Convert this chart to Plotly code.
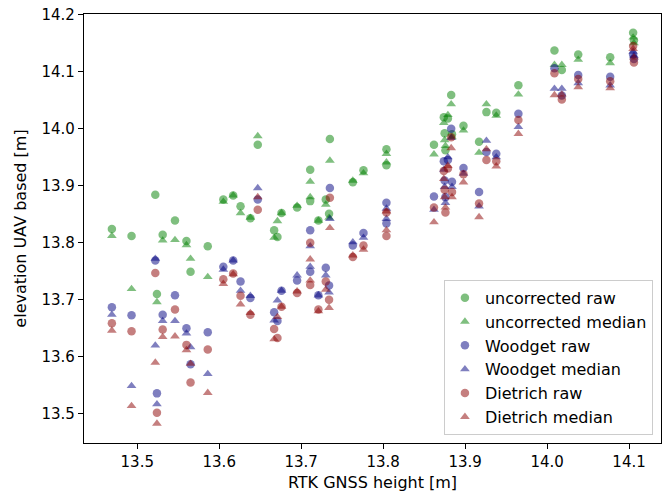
import plotly.graph_objects as go

# RTK GNSS heights (x) – one entry per measured point
gnss = [13.469, 13.493, 13.522, 13.522, 13.524, 13.531, 13.546, 13.560, 13.565, 13.586,
        13.605, 13.617, 13.626, 13.638, 13.647, 13.667, 13.671, 13.676, 13.695, 13.711,
        13.711, 13.721, 13.730, 13.734, 13.735, 13.763, 13.776, 13.804, 13.804, 13.862,
        13.874, 13.875, 13.876, 13.879, 13.883, 13.884, 13.898, 13.917, 13.926, 13.938,
        13.965, 14.009, 14.018, 14.038, 14.077, 14.105, 14.106]

uncorrected_raw = [13.824, 13.812, 13.884, None, 13.710, 13.814, 13.839, 13.803, 13.749, 13.794,
                   13.876, 13.883, 13.864, 13.843, 13.972, 13.822, 13.810, 13.852, 13.862, 13.928,
                   13.873, 13.839, 13.876, 13.851, 13.982, 13.906, 13.927, 13.964, 13.936, 13.972,
                   14.020, 13.992, 13.962, 14.018, 14.059, 13.990, 14.005, 13.977, 14.029, 14.028,
                   14.076, 14.137, 14.103, 14.130, 14.125, 14.168, 14.155]
uncorrected_median = [13.812, 13.719, None, None, 13.696, 13.804, 13.805, 13.796, 13.772, 13.740,
                      13.872, 13.883, 13.852, 13.844, 13.987, 13.809, 13.838, 13.852, 13.865, 13.907,
                      13.880, 13.839, 13.867, 13.844, 13.944, 13.909, 13.922, 13.956, 13.941, 13.955,
                      14.010, 13.980, 13.970, 14.024, 14.043, 13.985, 13.997, 13.958, 14.043, 14.023,
                      14.060, 14.112, 14.112, 14.121, 14.115, 14.160, 14.150]
woodget_raw = [13.687, 13.673, 13.769, None, 13.536, 13.674, 13.708, 13.650, 13.587, 13.643,
               13.758, 13.769, 13.732, 13.703, 13.876, 13.678, 13.663, 13.716, 13.734, 13.822,
               13.749, 13.708, 13.756, 13.725, 13.896, 13.795, 13.817, 13.870, 13.834, 13.881,
               13.943, 13.909, 13.880, 13.945, 14.000, 13.907, 13.931, 13.889, 13.959, 13.956,
               14.026, 14.106, 14.058, 14.094, 14.091, 14.130, 14.122]
woodget_median = [13.674, 13.549, 13.772, 13.620, 13.517, 13.663, 13.663, 13.641, 13.617, 13.570,
                  13.753, 13.769, 13.716, 13.707, 13.896, 13.664, 13.699, 13.716, 13.743, 13.794,
                  13.758, 13.708, 13.743, 13.713, 13.842, 13.801, 13.809, 13.860, 13.842, 13.858,
                  13.928, 13.898, 13.870, 13.950, 13.984, 13.898, 13.921, 13.864, 13.979, 13.950,
                  14.003, 14.070, 14.070, 14.080, 14.076, 14.135, 14.128]
dietrich_raw = [13.659, 13.645, 13.747, None, 13.502, 13.648, 13.683, 13.621, 13.555, 13.613,
                13.736, 13.746, 13.707, 13.674, 13.858, 13.649, 13.633, 13.688, 13.712, 13.800,
                13.726, 13.683, 13.732, 13.700, 13.879, 13.775, 13.795, 13.853, 13.812, 13.862,
                13.926, 13.893, 13.853, 13.930, 13.985, 13.889, 13.920, 13.869, 13.945, 13.943,
                14.015, 14.097, 14.051, 14.087, 14.083, 14.145, 14.116]
dietrich_median = [13.646, 13.514, 13.590, None, 13.483, 13.635, 13.636, 13.612, 13.588, 13.537,
                   13.728, 13.745, 13.692, 13.677, 13.880, 13.631, 13.670, 13.688, 13.715, 13.771,
                   13.734, 13.680, 13.718, 13.686, 13.826, 13.778, 13.788, 13.855, 13.822, 13.836,
                   13.912, 13.880, 13.862, 13.935, 13.966, 13.880, 13.906, 13.845, 13.964, 13.934,
                   13.991, 14.059, 14.060, 14.073, 14.071, 14.140, 14.125]

series_names = ["uncorrected raw", "uncorrected median", "Woodget raw",
                "Woodget median", "Dietrich raw", "Dietrich median"]
series_values = [uncorrected_raw, uncorrected_median, woodget_raw,
                 woodget_median, dietrich_raw, dietrich_median]
colors = ["rgb(0,128,0)", "rgb(0,128,0)", "rgb(0,0,128)", "rgb(0,0,128)",
          "rgb(139,0,0)", "rgb(139,0,0)"]
symbols = ["circle", "triangle-up"] * 3
sizes = [8.5, 8.5] * 3

x_ticks = [13.5, 13.6, 13.7, 13.8, 13.9, 14.0, 14.1]
y_ticks = [13.5, 13.6, 13.7, 13.8, 13.9, 14.0, 14.1, 14.2]

FONT = "DejaVu Sans"

fig = go.Figure()
for i, (name, vals) in enumerate(zip(series_names, series_values)):
    fig.add_trace(go.Scatter(
        x=gnss, y=vals, mode="markers", name=name, legendgroup=f"g{i}",
        marker=dict(color=colors[i], symbol=symbols[i], size=sizes[i],
                    opacity=0.5, line=dict(width=0)),
    ))

axis_common = dict(showline=True, linecolor="black", linewidth=1.2, mirror=True,
                   ticks="outside", ticklen=5, tickwidth=1.2, tickcolor="black",
                   showgrid=False, zeroline=False, tickformat=".1f",
                   tickfont=dict(family=FONT, size=15, color="black"))

fig.update_layout(
    width=664, height=494,
    margin=dict(l=84, r=3, t=14, b=51),
    plot_bgcolor="white", paper_bgcolor="white",
    font=dict(family=FONT, size=16, color="black"),
    xaxis=dict(range=[13.435, 14.139], tickvals=x_ticks,
               title=dict(text="RTK GNSS height [m]", font=dict(family=FONT, size=16),
                          standoff=6),
               **axis_common),
    yaxis=dict(range=[13.449, 14.201], tickvals=y_ticks,
               title=dict(text="elevation UAV based [m]", font=dict(family=FONT, size=16),
                          standoff=10),
               **axis_common),
    legend=dict(x=0.986, y=0.019, xanchor="right", yanchor="bottom",
                bgcolor="rgba(255,255,255,0.8)", bordercolor="#cccccc", borderwidth=1,
                font=dict(family=FONT, size=16, color="black"),
                traceorder="grouped", tracegroupgap=0),
    showlegend=True,
)

fig.write_html("out.html")
